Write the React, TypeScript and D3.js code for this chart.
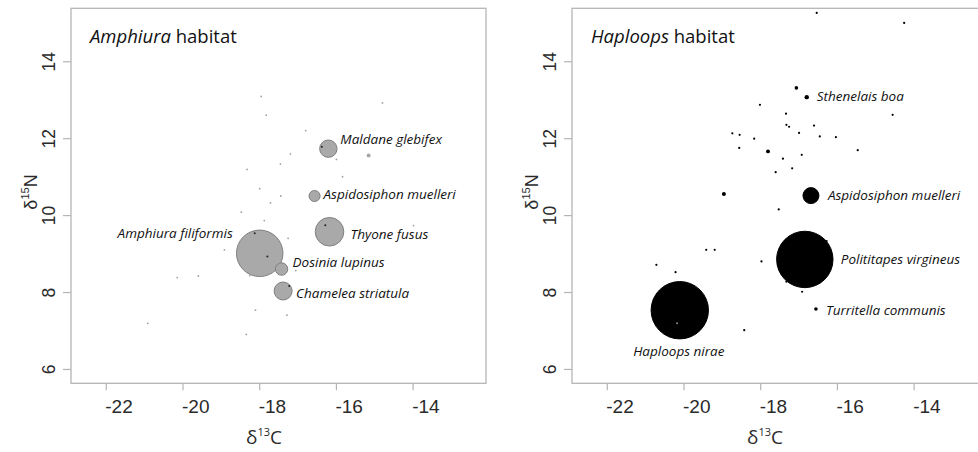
import React from "react";
import * as d3 from "d3";

const X_TICKS = [-22, -20, -18, -16, -14];
const Y_TICKS = [6, 8, 10, 12, 14];
const X_DOMAIN: [number, number] = [-22.92, -12.1];
const Y_DOMAIN: [number, number] = [5.64, 15.39];

// [species, d13C, d15N, relative biomass]
const AMPH_MAJOR: [string, number, number, number][] = [
  ["Amphiura filiformis", -18.0, 9.02, 60],
  ["Thyone fusus", -16.18, 9.58, 22.7],
  ["Chamelea striatula", -17.39, 8.04, 9],
  ["Maldane glebifex", -16.21, 11.74, 8.4],
  ["Dosinia lupinus", -17.43, 8.61, 4.3],
  ["Aspidosiphon muelleri", -16.57, 10.51, 3.4],
  ["", -15.16, 11.56, 0.44],
];

// minor species in Amphiura habitat [d13C, d15N]
const AMPH_MINOR: [number, number][] = [
  [-17.96, 13.1], [-17.83, 12.61], [-14.8, 12.93], [-16.8, 12.21], [-17.2, 11.6],
  [-17.46, 11.34], [-18.33, 11.2], [-16.0, 11.46], [-15.84, 11.01], [-18.0, 10.7],
  [-17.45, 10.51], [-17.72, 10.33], [-18.48, 10.09], [-17.88, 9.87], [-17.26, 9.41],
  [-18.92, 9.11], [-20.15, 8.39], [-19.6, 8.43], [-18.26, 8.44], [-17.06, 8.57],
  [-18.11, 7.54], [-17.29, 7.41], [-20.92, 7.2], [-18.35, 6.91], [-13.99, 9.74],
];

// individual samples sitting on the large circles
const AMPH_SAMPLES: [number, number][] = [
  [-18.13, 9.54], [-17.8, 8.94], [-16.29, 9.75], [-17.23, 8.17], [-16.38, 11.79],
];

const HAPL_MAJOR: [string, number, number, number][] = [
  ["Haploops nirae", -20.11, 7.54, 91.5],
  ["Polititapes virgineus", -16.85, 8.86, 88.4],
  ["Aspidosiphon muelleri", -16.69, 10.52, 7.1],
  ["Sthenelais boa", -16.8, 13.08, 0.54],
  ["Turritella communis", -16.56, 7.57, 0.36],
  ["", -17.07, 13.32, 0.36],
  ["", -17.81, 11.67, 0.44],
  ["", -18.96, 10.56, 0.44],
];

const HAPL_MINOR: [number, number][] = [
  [-16.54, 15.27], [-14.26, 15.01], [-18.02, 12.88], [-17.34, 12.65], [-14.56, 12.62],
  [-17.33, 12.36], [-17.26, 12.31], [-16.61, 12.34], [-18.74, 12.14], [-18.55, 12.1],
  [-18.17, 12.0], [-17.0, 12.15], [-16.46, 12.06], [-16.04, 12.04], [-18.56, 11.76],
  [-15.47, 11.7], [-16.93, 11.58], [-17.42, 11.48], [-17.18, 11.23], [-17.61, 11.13],
  [-17.53, 10.16], [-19.42, 9.11], [-19.2, 9.11], [-17.98, 8.81], [-20.72, 8.72],
  [-20.22, 8.53], [-16.92, 8.02], [-16.28, 9.34], [-17.33, 8.28], [-18.43, 7.02],
];

const HAPL_SAMPLES: [number, number][] = [[-20.18, 7.2]];

// label offsets from circle centre, px: [dx, dy, anchor]
const AMPH_LABEL_POS: Record<string, [number, number, string]> = {
  "Amphiura filiformis": [-27, -20, "end"],
  "Thyone fusus": [21, 3, "start"],
  "Chamelea striatula": [13, 2, "start"],
  "Maldane glebifex": [12, -9, "start"],
  "Dosinia lupinus": [11, -7, "start"],
  "Aspidosiphon muelleri": [9, -2, "start"],
};
const HAPL_LABEL_POS: Record<string, [number, number, string]> = {
  "Haploops nirae": [-1, 41, "middle"],
  "Polititapes virgineus": [36, 0, "start"],
  "Aspidosiphon muelleri": [17, 0, "start"],
  "Sthenelais boa": [10, -1, "start"],
  "Turritella communis": [10, 1, "start"],
};

const BOX_W = 415;
const BOX_TOP = 8.3;
const BOX_BOTTOM = 383.3;
const LABEL_FONT = "'Open Sans', 'Noto Sans', sans-serif";
const TICK_FONT = "'Liberation Sans', Arial, sans-serif";

const rScale = d3.scaleSqrt().domain([0, 100]).range([0, 30]);

type PanelProps = {
  x0: number;
  genus: string;
  major: [string, number, number, number][];
  minor: [number, number][];
  samples: [number, number][];
  labelPos: Record<string, [number, number, string]>;
  dark: boolean;
};

const Panel = ({ x0, genus, major, minor, samples, labelPos, dark }: PanelProps) => {
  const x = d3.scaleLinear().domain(X_DOMAIN).range([x0, x0 + BOX_W]);
  const y = d3.scaleLinear().domain(Y_DOMAIN).range([BOX_BOTTOM, BOX_TOP]);
  const big = major.filter(d => d[3] > 1);
  const medium = major.filter(d => d[3] <= 1);

  return (
    <g>
      {/* frame */}
      <rect x={x0} y={BOX_TOP} width={BOX_W} height={BOX_BOTTOM - BOX_TOP}
        fill="none" stroke="#b5b5b5" strokeWidth={1.3} />

      {/* x axis */}
      {X_TICKS.map(t => (
        <g key={t}>
          <line x1={x(t)} x2={x(t)} y1={BOX_BOTTOM} y2={BOX_BOTTOM + 7} stroke="#b5b5b5" strokeWidth={1.2} />
          <text x={x(t) - 1} y={413} fontFamily={TICK_FONT} fontSize={19} fill="#2a2a2a">{t}</text>
        </g>
      ))}
      <text x={x0 + 193} y={444} textAnchor="middle" fontFamily={LABEL_FONT} fontSize={19} fill="#2a2a2a">
        δ<tspan fontSize={11} dy={-8}>13</tspan><tspan dy={8}>C</tspan>
      </text>

      {/* y axis */}
      {Y_TICKS.map(t => (
        <g key={t}>
          <line x1={x0 - 8} x2={x0} y1={y(t)} y2={y(t)} stroke="#b5b5b5" strokeWidth={1.2} />
          <text transform={`translate(${x0 - 16},${y(t)}) rotate(-90)`} textAnchor="middle"
            fontFamily={TICK_FONT} fontSize={17.5} fill="#2a2a2a">{t}</text>
        </g>
      ))}
      <text transform={`translate(${x0 - 34},192) rotate(-90)`} textAnchor="middle"
        fontFamily={TICK_FONT} fontSize={18} fill="#2a2a2a">
        δ<tspan fontSize={11} dy={-8}>15</tspan><tspan dy={8}>N</tspan>
      </text>

      {/* title */}
      <text x={x0 + 19} y={43} fontFamily={LABEL_FONT} fontSize={18.5} fill="#111">
        <tspan fontStyle="italic">{genus}</tspan> habitat
      </text>

      {/* biomass circles */}
      {big.map(d => (
        <circle key={d[0] + d[1]} cx={x(d[1])} cy={y(d[2])} r={rScale(d[3])}
          fill={dark ? "#000" : "#a9a9a9"} stroke={dark ? "#000" : "#808080"} strokeWidth={1} />
      ))}
      {minor.map((d, i) => (
        <circle key={"m" + i} cx={x(d[0])} cy={y(d[1])} r={dark ? 1.1 : 0.9}
          fill={dark ? "#000" : "#a0a0a0"} />
      ))}
      {medium.map((d, i) => (
        <circle key={"md" + i} cx={x(d[1])} cy={y(d[2])} r={rScale(d[3])}
          fill={dark ? "#000" : "#a6a6a6"} />
      ))}
      {samples.map((d, i) => (
        <circle key={"s" + i} cx={x(d[0])} cy={y(d[1])} r={1}
          fill={dark ? "#8a8a8a" : "#222"} />
      ))}

      {/* species labels */}
      {major.filter(d => labelPos[d[0]]).map(d => {
        const [dx, dy, anchor] = labelPos[d[0]];
        return (
          <text key={"l" + d[0]} x={x(d[1]) + dx} y={y(d[2]) + dy} dy="0.35em"
            textAnchor={anchor} fontFamily={LABEL_FONT} fontStyle="italic" fontSize={13.5} fill="#111">
            {d[0]}
          </text>
        );
      })}
    </g>
  );
};

export default function App() {
  return (
    <svg width={978} height={452} style={{ position: "absolute", left: 0, top: 0, background: "#fff" }}>
      <Panel x0={71} genus="Amphiura" major={AMPH_MAJOR} minor={AMPH_MINOR}
        samples={AMPH_SAMPLES} labelPos={AMPH_LABEL_POS} dark={false} />
      <Panel x0={572} genus="Haploops" major={HAPL_MAJOR} minor={HAPL_MINOR}
        samples={HAPL_SAMPLES} labelPos={HAPL_LABEL_POS} dark={true} />
    </svg>
  );
}
